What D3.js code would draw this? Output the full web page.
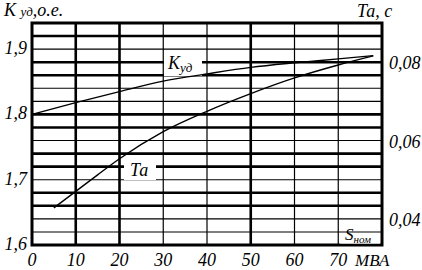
<!DOCTYPE html>
<html>
<head>
<meta charset="utf-8">
<script src="https://cdn.jsdelivr.net/npm/d3@7"></script>
<style>
  body { margin: 0; background: #fff; }
  svg { display: block; }
  svg text { font-family: "Liberation Serif", "DejaVu Serif", serif !important; font-style: italic; }
</style>
</head>
<body>
<script>
// data
const sTicks = [0, 10, 20, 30, 40, 50, 60, 70];
const kTicks = [1.6, 1.7, 1.8, 1.9];
const tTicks = [0.04, 0.06, 0.08];

const kS = [0, 10, 20, 30, 40, 50, 60, 70, 78];
const kValues = [1.8, 1.818, 1.835, 1.851, 1.862, 1.872, 1.879, 1.885, 1.89];

const tS = [5, 10, 15, 20, 30, 40, 50, 60, 70, 78];
const tValues = [0.0431, 0.0473, 0.0515, 0.0556, 0.0625, 0.0677, 0.0722, 0.0762, 0.0795, 0.0818];

// which grid lines are drawn heavy (hand drawn look of the original)
const vThick = [10, 20, 50];
const hThickIdx = [3, 4, 6, 7, 9, 10, 13, 14, 16];

const W = 422, H = 270;
const svg = d3.select("body").append("svg").attr("width", W).attr("height", H);

const x = d3.scaleLinear().domain([0, 80]).range([32, 382]);
const yK = d3.scaleLinear().domain([1.6, 1.94]).range([245, 23]);
const yT = d3.scaleLinear().domain([0.04, 0.08]).range([220, 63]);

const grid = svg.append("g");

// horizontal grid every 0.02 on the left scale
d3.range(1, 17).forEach((i) => {
  const v = 1.6 + i * 0.02;
  grid.append("line")
    .attr("x1", x(0)).attr("x2", x(80))
    .attr("y1", yK(v)).attr("y2", yK(v))
    .attr("stroke", "#000")
    .attr("stroke-width", hThickIdx.includes(i) ? 2.6 : 1.1);
});

// vertical grid
d3.range(10, 80, 10).forEach((s) => {
  grid.append("line")
    .attr("x1", x(s)).attr("x2", x(s))
    .attr("y1", yK(1.94)).attr("y2", yK(1.6))
    .attr("stroke", "#000")
    .attr("stroke-width", vThick.includes(s) ? 2.6 : 1.2);
});

// frame
grid.append("rect")
  .attr("x", x(0)).attr("y", yK(1.94))
  .attr("width", x(80) - x(0)).attr("height", yK(1.6) - yK(1.94))
  .attr("fill", "none").attr("stroke", "#000").attr("stroke-width", 3);

// white boxes behind curve labels
svg.append("rect").attr("x", 164).attr("y", 52).attr("width", 38).attr("height", 24).attr("fill", "#fff");
svg.append("rect").attr("x", 124).attr("y", 160).attr("width", 32).attr("height", 20).attr("fill", "#fff");
svg.append("rect").attr("x", x(70) + 2).attr("y", yK(1.62) + 2).attr("width", x(80) - x(70) - 4).attr("height", yK(1.6) - yK(1.62) - 3.5).attr("fill", "#fff");

// curves
const lineK = d3.line().x((d, i) => x(kS[i])).y((d) => yK(d)).curve(d3.curveMonotoneX);
const lineT = d3.line().x((d, i) => x(tS[i])).y((d) => yT(d)).curve(d3.curveMonotoneX);

svg.append("path").attr("d", lineK(kValues))
  .attr("fill", "none").attr("stroke", "#000").attr("stroke-width", 1.4);
svg.append("path").attr("d", lineT(tValues))
  .attr("fill", "none").attr("stroke", "#000").attr("stroke-width", 1.4);

// curve labels
const kl = svg.append("text").attr("x", 168).attr("y", 69).attr("font-size", 18);
kl.append("tspan").text("К");
kl.append("tspan").attr("font-size", 13).attr("dy", 3).text("уд");

svg.append("text").attr("x", 130).attr("y", 176).attr("font-size", 18).text("Та");

const sl = svg.append("text").attr("x", 345).attr("y", 240).attr("font-size", 17);
sl.append("tspan").text("S");
sl.append("tspan").attr("font-size", 11).attr("dy", 3).text("ном");

// left ticks
svg.selectAll(".kt").data(kTicks).enter().append("text")
  .attr("class", "kt")
  .attr("x", 27).attr("y", (d) => yK(d) + 5)
  .attr("text-anchor", "end").attr("font-size", 18)
  .text((d) => d3.format(".1f")(d).replace(".", ","));

// right ticks
svg.selectAll(".tt").data(tTicks).enter().append("text")
  .attr("class", "tt")
  .attr("x", 389).attr("y", (d) => yT(d) + 6)
  .attr("font-size", 18)
  .text((d) => d3.format(".2f")(d).replace(".", ","));

// bottom ticks
svg.selectAll(".st").data(sTicks).enter().append("text")
  .attr("class", "st")
  .attr("x", (d) => x(d)).attr("y", 266)
  .attr("text-anchor", "middle").attr("font-size", 18)
  .text((d) => d);

svg.append("text").attr("x", 355).attr("y", 266).attr("font-size", 17).text("МВА");

// axis titles
const ka = svg.append("text").attr("x", 4).attr("y", 16).attr("font-size", 18);
ka.append("tspan").text("К ");
ka.append("tspan").attr("font-size", 13).text("уд");
ka.append("tspan").text(",о.е.");

svg.append("text").attr("x", 357).attr("y", 17).attr("font-size", 18).text("Та,  с");
</script>
</body>
</html>
